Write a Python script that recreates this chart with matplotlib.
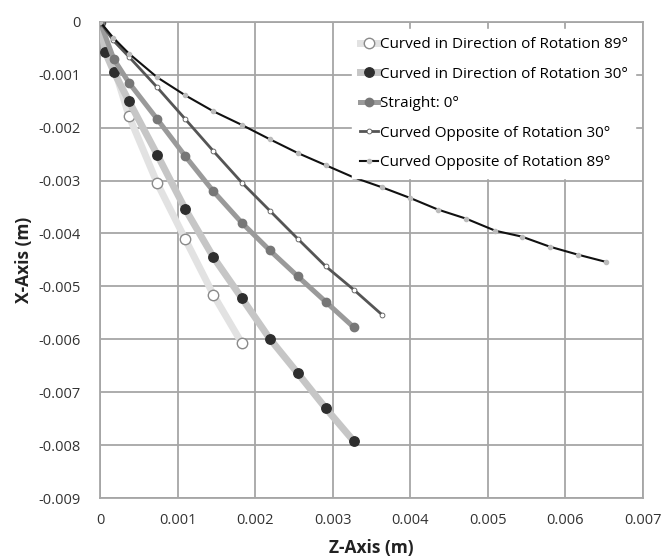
import matplotlib.pyplot as plt
import numpy as np

plt.rcParams['font.family'] = ['Open Sans', 'DejaVu Sans']

# Curved in direction of rotation 89 deg
z_dir89 = [0, 0.000373, 0.000738, 0.0011, 0.001463, 0.001828]
x_dir89 = [0, -0.00178, -0.00305, -0.00411, -0.00516, -0.00607]

# Curved in direction of rotation 30 deg
z_dir30 = [0, 0.00007, 0.00018, 0.000373, 0.000738, 0.0011, 0.001463, 0.001828,
           0.00219, 0.00255, 0.00291, 0.00327]
x_dir30 = [0, -0.00058, -0.00095, -0.0015, -0.00251, -0.00354, -0.00445, -0.00522,
           -0.00599, -0.00664, -0.0073, -0.00792]

# Straight 0 deg
z_str = [0, 0.00018, 0.000373, 0.000738, 0.0011, 0.00146, 0.00183, 0.00219,
         0.00255, 0.00291, 0.00327]
x_str = [0, -0.00071, -0.00115, -0.00184, -0.00254, -0.0032, -0.0038, -0.00432,
         -0.00481, -0.00529, -0.00577]

# Curved opposite of rotation 30 deg
z_opp30 = [0, 0.00017, 0.000373, 0.000738, 0.0011, 0.00146, 0.00183, 0.00219,
           0.00255, 0.00291, 0.00327, 0.00364]
x_opp30 = [0, -0.00035, -0.00066, -0.00124, -0.00184, -0.00244, -0.00304, -0.00357,
           -0.0041, -0.00462, -0.00506, -0.00554]

# Curved opposite of rotation 89 deg
z_opp89 = [0, 0.00017, 0.000373, 0.000738, 0.0011, 0.00146, 0.00183, 0.00219,
           0.00255, 0.00291, 0.00327, 0.00364, 0.0040, 0.00436, 0.00472, 0.0051,
           0.00544, 0.0058, 0.00616, 0.00653]
x_opp89 = [0, -0.0003, -0.0006, -0.00105, -0.00139, -0.00169, -0.00195, -0.00222,
           -0.00248, -0.00271, -0.00294, -0.00313, -0.00333, -0.00355, -0.00372,
           -0.00395, -0.00406, -0.00425, -0.0044, -0.00454]

fig, ax = plt.subplots(figsize=(6.62, 5.58), dpi=100)
fig.subplots_adjust(left=0.151, right=0.971, top=0.961, bottom=0.1075)

ax.plot(z_dir89, x_dir89, color='#e2e2e2', lw=5, marker='o', ms=7.5,
        mfc='white', mec='#8a8a8a', mew=1.0, label='Curved in Direction of Rotation 89°', zorder=3)
ax.plot(z_dir30, x_dir30, color='#c6c6c6', lw=5, marker='o', ms=6.8,
        mfc='#2e2e2e', mec='#2e2e2e', label='Curved in Direction of Rotation 30°', zorder=4)
ax.plot(z_str, x_str, color='#9a9a9a', lw=3.6, marker='o', ms=6,
        mfc='#777777', mec='#777777', label='Straight: 0°', zorder=5)
ax.plot(z_opp30, x_opp30, color='#555555', lw=2, marker='o', ms=3.5,
        mfc='white', mec='#555555', mew=0.6, label='Curved Opposite of Rotation 30°', zorder=6)
ax.plot(z_opp89, x_opp89, color='#111111', lw=1.5, marker='o', ms=3,
        mfc='#bbbbbb', mec='#bbbbbb', label='Curved Opposite of Rotation 89°', zorder=7)

ax.set_xlim(0, 0.007)
ax.set_ylim(-0.009, 0)
ax.set_xticks(np.arange(0, 0.0071, 0.001))
ax.set_yticks(np.arange(-0.009, 0.00001, 0.001))
ax.set_xticklabels(['0', '0.001', '0.002', '0.003', '0.004', '0.005', '0.006', '0.007'])
ax.set_yticklabels(['-0.009', '-0.008', '-0.007', '-0.006', '-0.005', '-0.004',
                    '-0.003', '-0.002', '-0.001', '0'])
ax.tick_params(length=0, labelsize=10.5, labelcolor='#333333')
ax.tick_params(axis='y', pad=14)
ax.tick_params(axis='x', pad=11)
ax.grid(True, color='#a6a6a6', lw=1.3)
ax.set_axisbelow(True)
for s in ax.spines.values():
    s.set_color('#a6a6a6')
    s.set_linewidth(1.3)

ax.set_xlabel('Z-Axis (m)', fontsize=12.5, fontweight='bold', color='#222222', labelpad=8)
ax.set_ylabel('X-Axis (m)', fontsize=12.5, fontweight='bold', color='#222222', labelpad=4)

leg = ax.legend(loc='upper right', fontsize=11, frameon=True, framealpha=1,
                edgecolor='white', handlelength=1.2, handletextpad=0.1,
                labelspacing=0.95, borderaxespad=0.5, borderpad=0.5, fancybox=False)
leg.set_zorder(10)

fig.savefig('out.png', dpi=100)
